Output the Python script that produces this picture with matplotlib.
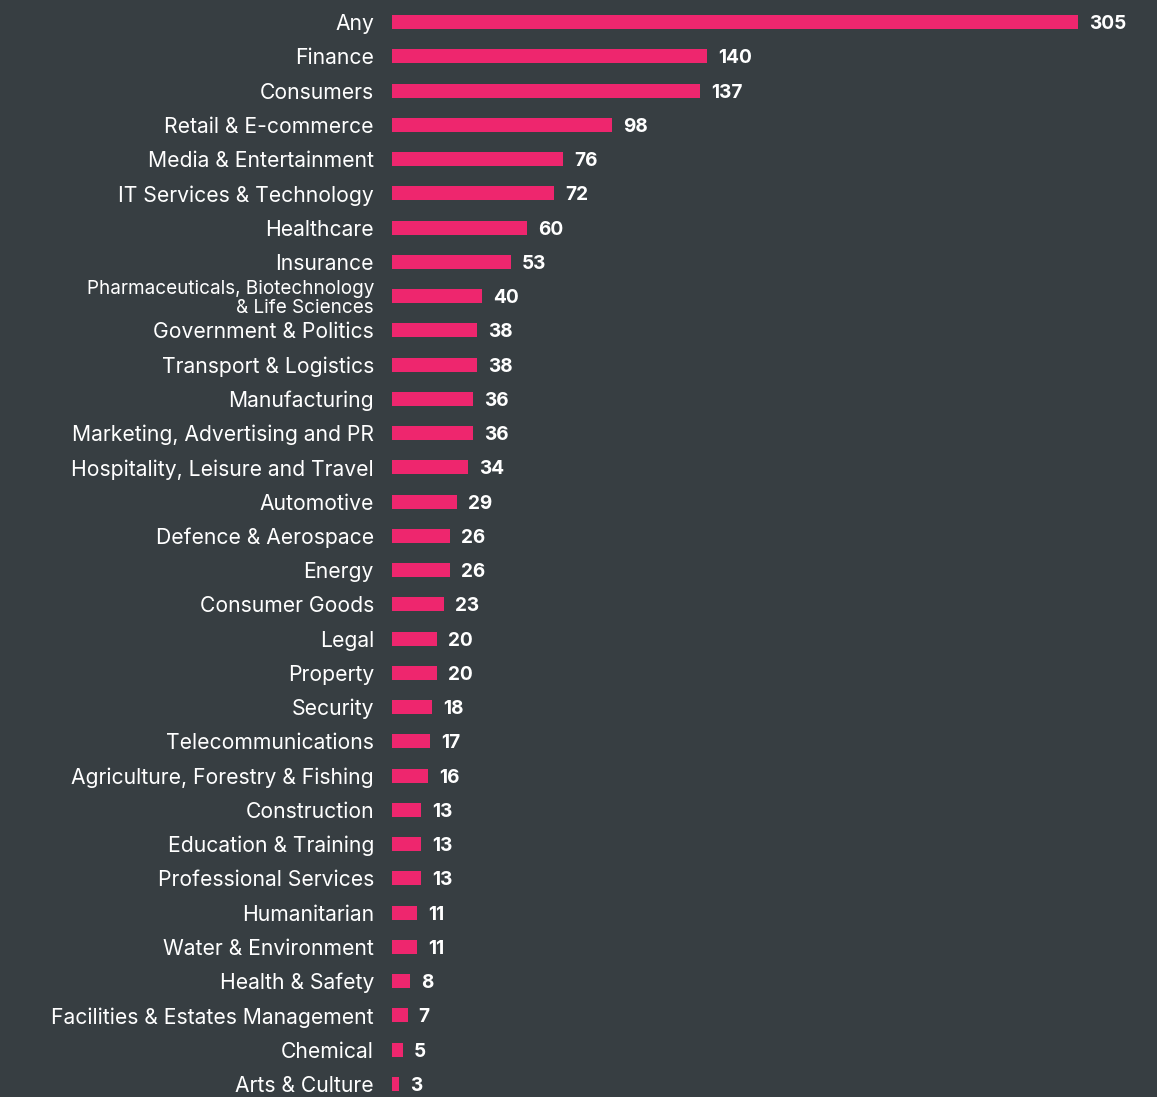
import matplotlib
matplotlib.use("Agg")
import matplotlib.pyplot as plt

categories = ["Any", "Finance", "Consumers", "Retail & E-commerce", "Media & Entertainment",
              "IT Services & Technology", "Healthcare", "Insurance",
              "Pharmaceuticals, Biotechnology\n& Life Sciences", "Government & Politics",
              "Transport & Logistics", "Manufacturing", "Marketing, Advertising and PR",
              "Hospitality, Leisure and Travel", "Automotive", "Defence & Aerospace", "Energy",
              "Consumer Goods", "Legal", "Property", "Security", "Telecommunications",
              "Agriculture, Forestry & Fishing", "Construction", "Education & Training",
              "Professional Services", "Humanitarian", "Water & Environment", "Health & Safety",
              "Facilities & Estates Management", "Chemical", "Arts & Culture"]
values = [305, 140, 137, 98, 76, 72, 60, 53, 40, 38, 38, 36, 36, 34, 29, 26, 26, 23, 20, 20,
          18, 17, 16, 13, 13, 13, 11, 11, 8, 7, 5, 3]

BG = "#373e42"
BAR = "#ee266e"
plt.rcParams['font.family'] = ['Inter', 'DejaVu Sans']

W, H = 1157, 1097
fig = plt.figure(figsize=(W / 100, H / 100), dpi=100, facecolor=BG)
x0, x1 = 392, 1078
ax = fig.add_axes([x0 / W, 0, (x1 - x0) / W, 1])
ax.set_facecolor(BG)
n = len(categories)
step = (1084 - 22) / (n - 1)
pos = list(range(n))
ax.barh(pos, values, height=14 / step, color=BAR, align='center')
ax.set_xlim(0, 305)
ax.set_ylim((H - 22) / step, -22 / step)
for i, v in enumerate(values):
    ax.annotate(str(v), (v, i), xytext=(11, -7), textcoords='offset pixels',
                va='baseline', ha='left', color='white', fontsize=13.7, fontweight='bold')
ax.set_yticks(pos)
ax.set_yticklabels(categories)
for lab, c in zip(ax.get_yticklabels(), categories):
    lab.set_color('white')
    if '\n' in c:
        lab.set_fontsize(13.6)
        lab.set_linespacing(1.05)
    else:
        lab.set_fontsize(15.2)
ax.tick_params(axis='y', length=0, pad=13)
ax.tick_params(axis='x', bottom=False, labelbottom=False)
for s in ax.spines.values():
    s.set_visible(False)
fig.savefig("out.png", dpi=100, facecolor=BG)
